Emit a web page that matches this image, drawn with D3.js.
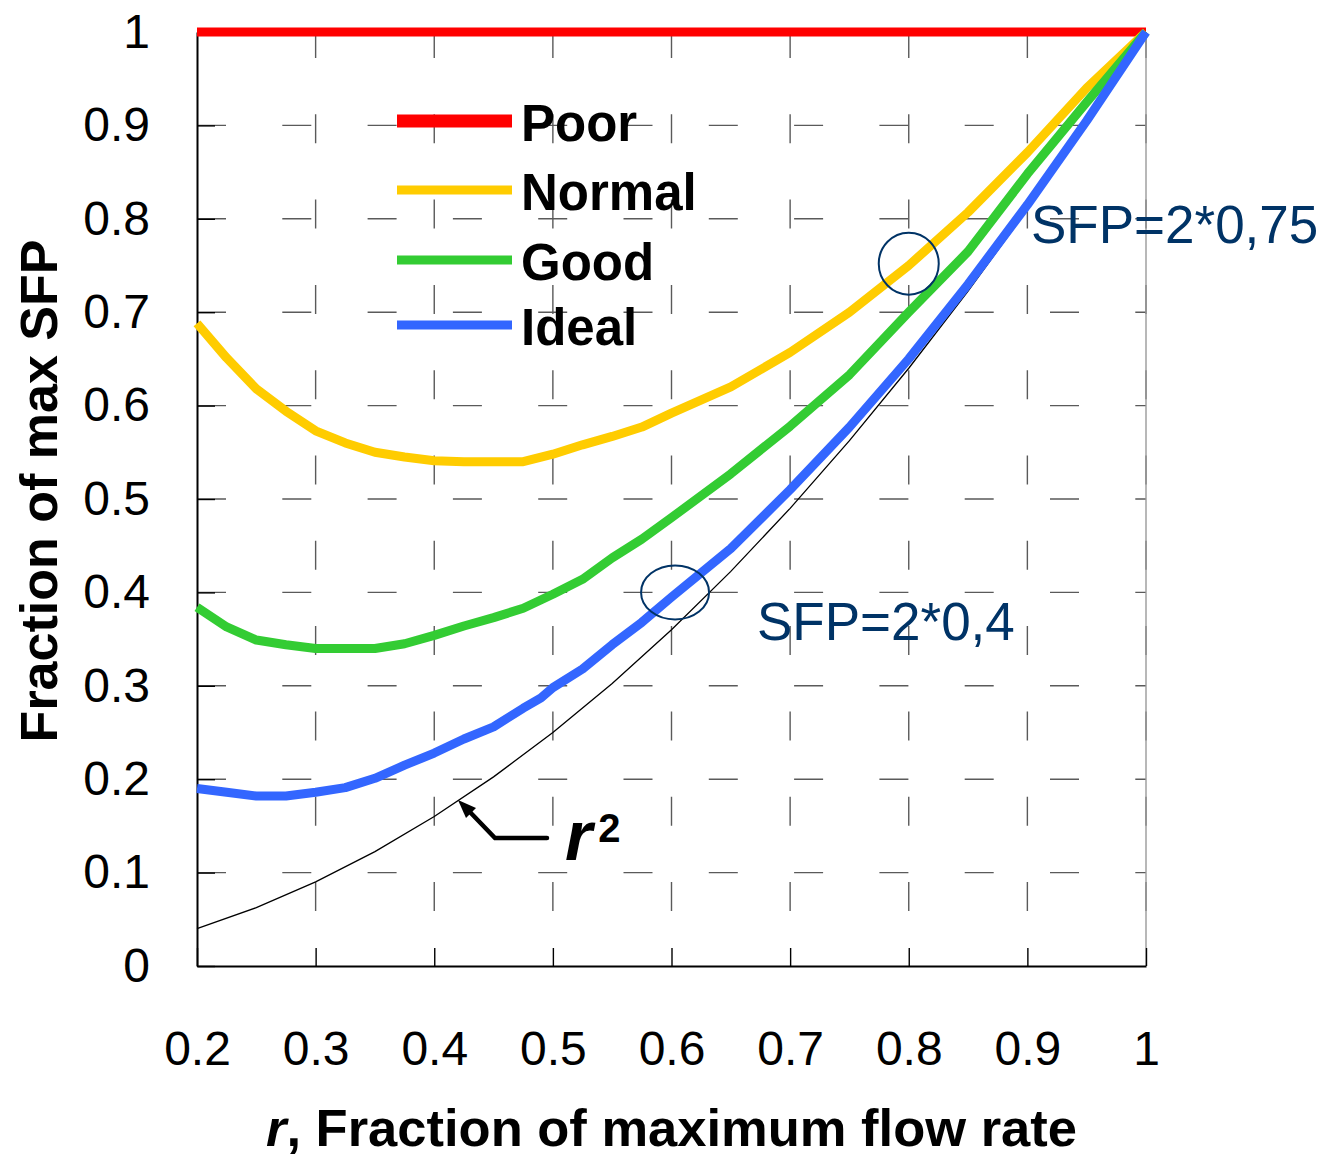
<!DOCTYPE html>
<html>
<head>
<meta charset="utf-8">
<script src="https://cdn.jsdelivr.net/npm/d3@7"></script>
<style>
  body { margin: 0; background: #fff; }
  text { font-family: "Liberation Sans", Arial, sans-serif; }
</style>
</head>
<body>
<script>
// values
var yTicks = [0, 0.1, 0.2, 0.3, 0.4, 0.5, 0.6, 0.7, 0.8, 0.9, 1];
var xTicks = [0.2, 0.3, 0.4, 0.5, 0.6, 0.7, 0.8, 0.9, 1];

var poorR = [0.2, 1.0];
var poorV = [1, 1];

var normalR = [0.2,0.225,0.25,0.275,0.3,0.325,0.35,0.375,0.4,0.425,0.45,0.475,0.5,0.525,0.55,0.575,0.6,0.65,0.7,0.75,0.8,0.85,0.9,0.95,1.0];
var normalV = [0.688,0.651,0.618,0.594,0.573,0.56,0.55,0.545,0.541,0.54,0.54,0.54,0.548,0.558,0.567,0.577,0.592,0.62,0.657,0.70,0.75,0.807,0.871,0.94,1.0];

var goodR = [0.2,0.225,0.25,0.275,0.3,0.325,0.35,0.375,0.4,0.425,0.45,0.475,0.5,0.525,0.55,0.575,0.6,0.65,0.7,0.75,0.8,0.85,0.9,0.95,1.0];
var goodV = [0.384,0.363,0.349,0.344,0.34,0.34,0.34,0.345,0.354,0.364,0.373,0.383,0.398,0.414,0.437,0.457,0.48,0.527,0.578,0.633,0.70,0.765,0.848,0.925,1.0];

var idealR = [0.2,0.225,0.25,0.275,0.3,0.325,0.35,0.375,0.4,0.425,0.45,0.475,0.49,0.5,0.525,0.55,0.575,0.6,0.65,0.7,0.75,0.8,0.85,0.9,0.95,1.0];
var idealV = [0.19,0.186,0.182,0.182,0.186,0.191,0.201,0.215,0.228,0.243,0.256,0.276,0.287,0.298,0.318,0.344,0.368,0.395,0.447,0.51,0.577,0.65,0.73,0.815,0.905,1.0];

var r2R = [0.2,0.25,0.3,0.35,0.4,0.45,0.5,0.55,0.6,0.65,0.7,0.75,0.8,0.85,0.9,0.95,1.0];
var r2V = [0.04,0.0625,0.09,0.1225,0.16,0.2025,0.25,0.3025,0.36,0.4225,0.49,0.5625,0.64,0.7225,0.81,0.9025,1.0];

var legendNames = ["Poor", "Normal", "Good", "Ideal"];
var colors = ["#ff0000", "#ffcc00", "#33cc33", "#3366ff"];

var W = 1326, H = 1157;
var plotL = 197, plotR = 1146, plotT = 32, plotB = 966;

var svg = d3.select("body").append("svg").attr("width", W).attr("height", H);

var x = d3.scaleLinear().domain([0.2, 1]).range([plotL, plotR]);
var y = d3.scaleLinear().domain([0, 1]).range([plotB, plotT]);

// dashed grid
svg.append("g").selectAll("line").data(yTicks.slice(1, -1)).enter().append("line")
  .attr("x1", plotL).attr("x2", plotR)
  .attr("y1", function(d) { return y(d); }).attr("y2", function(d) { return y(d); })
  .attr("stroke", "#5a5a5a").attr("stroke-width", 1.4)
  .attr("stroke-dasharray", "29,56.3");

svg.append("g").selectAll("line").data(xTicks.slice(1)).enter().append("line")
  .attr("x1", function(d) { return x(d); }).attr("x2", function(d) { return x(d); })
  .attr("y1", plotT).attr("y2", plotB)
  .attr("stroke", "#5a5a5a").attr("stroke-width", 1.4)
  .attr("stroke-dasharray", "29,56.3").attr("stroke-dashoffset", 3);

// right border
svg.append("line").attr("x1", plotR).attr("x2", plotR).attr("y1", plotT).attr("y2", plotB)
  .attr("stroke", "#9a9a9a").attr("stroke-width", 1.4);

// axes
var fmt = function(d) { return (d === 0 || d === 1) ? String(d) : d.toFixed(1); };

var yAxis = svg.append("g").attr("transform", "translate(" + plotL + ",0)")
  .call(d3.axisLeft(y).tickValues(yTicks).tickSizeInner(-18).tickSizeOuter(0).tickFormat(fmt));
yAxis.select(".domain").attr("stroke", "#000").attr("stroke-width", 2);
yAxis.selectAll(".tick line").attr("stroke", "#000").attr("stroke-width", 1.4);
yAxis.selectAll(".tick text").attr("x", -47).attr("font-size", 48)
  .attr("font-family", "Liberation Sans, Arial, sans-serif").attr("fill", "#000");

var xAxis = svg.append("g").attr("transform", "translate(0," + plotB + ")")
  .call(d3.axisBottom(x).tickValues(xTicks).tickSizeInner(-18).tickSizeOuter(0).tickFormat(fmt));
xAxis.select(".domain").attr("stroke", "#000").attr("stroke-width", 2);
xAxis.selectAll(".tick line").attr("stroke", "#000").attr("stroke-width", 1.4);
xAxis.selectAll(".tick text").attr("y", 99).attr("dy", 0).attr("font-size", 48)
  .attr("font-family", "Liberation Sans, Arial, sans-serif").attr("fill", "#000");

// r^2 reference curve
var line = d3.line().x(function(d) { return x(d[0]); }).y(function(d) { return y(d[1]); });
svg.append("path").attr("d", line(d3.zip(r2R, r2V)))
  .attr("fill", "none").attr("stroke", "#000").attr("stroke-width", 1.3);

// series
var series = [d3.zip(poorR, poorV), d3.zip(normalR, normalV), d3.zip(goodR, goodV), d3.zip(idealR, idealV)];
series.forEach(function(s, i) {
  svg.append("path").attr("d", line(s))
    .attr("fill", "none").attr("stroke", colors[i])
    .attr("stroke-width", 9).attr("stroke-linejoin", "round");
});

// legend
var legY = [121, 190, 260, 325];
legendNames.forEach(function(name, i) {
  svg.append("line").attr("x1", 397).attr("x2", 512).attr("y1", legY[i]).attr("y2", legY[i])
    .attr("stroke", colors[i]).attr("stroke-width", i === 0 ? 13 : 9);
  svg.append("text").attr("x", 521).attr("y", legY[i] + 20)
    .attr("font-size", 51).attr("font-weight", "bold").text(name);
});

// annotations
var navy = "#003366";
svg.append("ellipse").attr("cx", x(0.8)).attr("cy", y(0.752)).attr("rx", 30).attr("ry", 31)
  .attr("fill", "none").attr("stroke", navy).attr("stroke-width", 2);
svg.append("ellipse").attr("cx", x(0.603)).attr("cy", y(0.4)).attr("rx", 34).attr("ry", 27)
  .attr("fill", "none").attr("stroke", navy).attr("stroke-width", 2);
svg.append("text").attr("x", 1031).attr("y", 243).attr("font-size", 53).attr("fill", navy).text("SFP=2*0,75");
svg.append("text").attr("x", 757).attr("y", 640).attr("font-size", 53).attr("fill", navy).text("SFP=2*0,4");

// r^2 pointer
svg.append("polyline").attr("points", "468,810 495,838 547,838")
  .attr("fill", "none").attr("stroke", "#000").attr("stroke-width", 4.5).attr("stroke-linecap", "round");
svg.append("path").attr("d", "M458,800 L476,808 L466,818 Z").attr("fill", "#000");
var r2 = svg.append("text").attr("x", 565).attr("y", 860).attr("font-weight", "bold");
r2.append("tspan").attr("font-style", "italic").attr("font-size", 70).text("r");
r2.append("tspan").attr("font-size", 40).attr("dx", 6).attr("dy", -18).text("2");

// axis titles
svg.append("text").attr("transform", "translate(57,491) rotate(-90)")
  .attr("text-anchor", "middle").attr("font-size", 52).attr("font-weight", "bold")
  .text("Fraction of max SFP");
var xt = svg.append("text").attr("x", (plotL + plotR) / 2).attr("y", 1146)
  .attr("text-anchor", "middle").attr("font-size", 52.5).attr("font-weight", "bold");
xt.append("tspan").attr("font-style", "italic").text("r");
xt.append("tspan").text(", Fraction of maximum flow rate");
</script>
</body>
</html>
